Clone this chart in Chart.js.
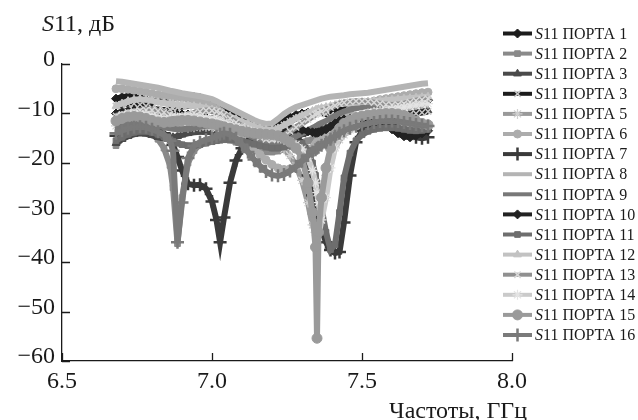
<!DOCTYPE html>
<html><head><meta charset="utf-8">
<script src="https://cdn.jsdelivr.net/npm/chart.js@4.4.1/dist/chart.umd.min.js"></script>
<style>html,body{margin:0;padding:0;background:#fff;}canvas{display:block;}</style>
</head><body>
<canvas id="c" width="638" height="420"></canvas>
<script>
// ---- data ----
const freqGHz = [6.68,6.70,6.72,6.74,6.76,6.78,6.80,6.82,6.84,6.86,
 6.87,6.885,6.90,6.92,6.94,6.96,6.98,7.00,7.015,7.027,
 7.04,7.06,7.08,7.10,7.12,7.14,7.16,7.18,7.20,7.22,
 7.24,7.26,7.28,7.30,7.32,7.335,7.345,7.35,7.355,7.365,
 7.38,7.395,7.41,7.425,7.44,7.46,7.48,7.50,7.52,7.54,
 7.56,7.58,7.60,7.62,7.64,7.66,7.68,7.70,7.72];

const port1 = [-7,-6.7,-6.5,-6.6,-6.8,-7.2,-7.5,-7.4,-7.1,-6.9,
 -6.8,-6.7,-6.6,-6.6,-6.7,-6.9,-7.2,-7.6,-8.0,-8.4,
 -8.8,-9.5,-10.2,-10.9,-11.5,-12.0,-12.3,-12.5,-12.4,-12.0,
 -11.4,-10.8,-10.3,-10.0,-9.8,-9.7,-9.6,-9.6,-9.6,-9.5,
 -9.4,-9.2,-9.0,-8.9,-8.8,-8.6,-8.4,-8.2,-8.0,-7.8,
 -7.6,-7.4,-7.2,-7.0,-6.9,-6.8,-6.9,-7.1,-7.3];
const port2 = [-16.5,-15.0,-13.8,-13.0,-12.8,-13.0,-13.8,-15.2,-17.0,-20.5,
 -25.0,-36.3,-27.0,-20.0,-17.5,-16.2,-15.5,-15.2,-15.0,-15.0,
 -15.1,-15.4,-15.8,-16.3,-16.8,-17.3,-17.6,-17.8,-17.8,-17.6,
 -17.2,-16.7,-16.2,-15.8,-15.5,-15.3,-15.2,-15.1,-15.0,-14.8,
 -14.5,-14.1,-13.7,-13.3,-13.0,-12.7,-12.4,-12.1,-11.9,-11.7,
 -11.6,-11.5,-11.5,-11.6,-11.8,-12.0,-12.2,-12.3,-12.3];
const port3 = [-16.0,-15.2,-14.6,-14.2,-14.0,-14.1,-14.4,-14.8,-15.0,-15.0,
 -14.8,-14.6,-14.3,-14.0,-13.8,-13.7,-13.7,-13.8,-14.0,-14.2,
 -14.4,-14.8,-15.2,-15.6,-16.0,-16.3,-16.5,-16.6,-16.6,-16.4,
 -16.0,-15.4,-14.8,-14.2,-13.8,-13.5,-13.4,-13.3,-13.2,-13.1,
 -13.0,-12.8,-12.6,-12.4,-12.2,-12.0,-11.8,-11.6,-11.4,-11.2,
 -11.0,-10.8,-10.6,-10.4,-10.2,-10.0,-9.8,-9.6,-9.4];
const port4 = [-8.5,-8.2,-8.0,-8.0,-8.2,-8.5,-8.9,-9.2,-9.3,-9.2,
 -9.0,-8.8,-8.6,-8.5,-8.5,-8.7,-9.0,-9.4,-9.8,-10.2,
 -10.6,-11.2,-11.8,-12.4,-12.9,-13.3,-13.6,-13.7,-13.5,-13.0,
 -12.3,-11.6,-11.0,-10.5,-10.1,-9.9,-9.8,-9.8,-9.8,-9.9,
 -10.1,-10.4,-10.8,-11.2,-11.6,-12.0,-12.3,-12.5,-12.5,-12.3,
 -12.0,-11.6,-11.2,-10.8,-10.5,-10.2,-10.0,-9.8,-9.6];
const port5 = [-12.5,-12.0,-11.6,-11.3,-11.2,-11.2,-11.4,-11.7,-12.0,-12.4,
 -12.6,-12.8,-12.9,-12.9,-12.8,-12.7,-12.7,-12.8,-13.0,-13.2,
 -13.4,-13.7,-14.0,-14.3,-14.6,-14.9,-15.2,-15.6,-16.0,-16.5,
 -17.2,-18.5,-20.5,-23.5,-28.0,-32.5,-34.0,-33.0,-31.0,-27.5,
 -22.5,-19.0,-16.8,-15.3,-14.3,-13.3,-12.6,-12.0,-11.5,-11.2,
 -11.2,-11.5,-12.0,-12.8,-13.8,-14.5,-14.8,-14.5,-13.0];
const port6 = [-5.0,-5.0,-5.1,-5.3,-5.5,-5.7,-6.0,-6.2,-6.4,-6.5,
 -6.6,-6.7,-6.8,-7.0,-7.2,-7.5,-7.9,-8.4,-9.0,-9.6,
 -10.3,-11.5,-12.8,-14.2,-15.6,-17.0,-18.3,-19.4,-20.3,-21.0,
 -21.3,-21.2,-20.6,-19.6,-18.2,-17.0,-16.2,-15.8,-15.4,-14.8,
 -13.8,-12.8,-11.8,-10.9,-10.1,-9.3,-8.7,-8.2,-7.8,-7.5,
 -7.2,-7.0,-6.8,-6.6,-6.4,-6.2,-6.0,-5.8,-5.7];
const port7 = [-14.5,-13.6,-12.9,-12.5,-12.4,-12.5,-12.8,-13.3,-14.0,-15.2,
 -16.3,-18.8,-21.5,-24.2,-24.5,-24.4,-25.2,-27.8,-31.5,-36.0,
 -31.0,-24.0,-19.5,-17.0,-15.5,-14.6,-14.2,-14.0,-13.9,-13.9,
 -13.8,-13.6,-14.0,-16.5,-22.5,-26.5,-28.5,-29.8,-31.0,-33.3,
 -36.0,-37.6,-38.2,-38.0,-32.0,-22.5,-15.8,-13.5,-12.4,-12.0,
 -11.8,-11.9,-12.3,-12.9,-13.6,-14.3,-14.8,-15.0,-14.8];
const port8 = [-3.5,-3.6,-3.8,-4.0,-4.2,-4.4,-4.6,-4.8,-5.1,-5.4,
 -5.5,-5.7,-5.9,-6.1,-6.3,-6.5,-6.8,-7.1,-7.5,-7.9,
 -8.3,-8.9,-9.5,-10.1,-10.7,-11.3,-11.8,-12.1,-12.0,-11.1,
 -10.1,-9.3,-8.7,-8.3,-7.9,-7.6,-7.4,-7.3,-7.2,-7.0,
 -6.8,-6.6,-6.5,-6.4,-6.3,-6.1,-6.0,-5.9,-5.8,-5.6,
 -5.4,-5.2,-5.0,-4.8,-4.6,-4.4,-4.2,-4.0,-3.9];
const port9 = [-13.0,-12.6,-12.2,-12.0,-11.9,-12.0,-12.2,-12.5,-12.8,-13.0,
 -13.1,-13.2,-13.2,-13.1,-12.9,-12.7,-12.5,-12.4,-12.4,-12.5,
 -12.6,-12.9,-13.3,-13.8,-14.3,-14.9,-15.4,-15.8,-16.0,-16.0,
 -15.7,-15.2,-14.6,-14.0,-13.4,-12.9,-12.6,-12.4,-12.2,-11.9,
 -11.5,-11.0,-10.5,-10.0,-9.6,-9.2,-8.9,-8.7,-8.5,-8.4,
 -8.4,-8.5,-8.6,-8.7,-8.7,-8.6,-8.4,-8.2,-8.0];
const port10 = [-10.0,-9.7,-9.5,-9.4,-9.5,-9.8,-10.2,-10.5,-10.6,-10.5,
 -10.4,-10.3,-10.2,-10.2,-10.3,-10.5,-10.8,-11.2,-11.6,-12.0,
 -12.4,-12.9,-13.3,-13.6,-13.8,-13.9,-13.9,-13.8,-13.6,-13.4,
 -13.2,-13.1,-13.1,-13.3,-13.6,-13.8,-13.9,-13.9,-13.8,-13.6,
 -13.2,-12.6,-12.0,-11.5,-11.2,-11.0,-11.0,-11.1,-11.3,-11.6,
 -12.0,-12.5,-13.2,-14.0,-14.6,-14.8,-14.5,-14.0,-13.5];
const port11 = [-15.5,-14.8,-14.2,-13.8,-13.6,-13.6,-13.8,-14.2,-14.7,-15.3,
 -15.6,-16.0,-16.3,-16.5,-16.5,-16.3,-16.0,-15.7,-15.5,-15.4,
 -15.3,-15.3,-15.4,-15.6,-15.9,-16.2,-16.5,-16.8,-17.0,-17.0,
 -16.8,-16.4,-16.0,-16.0,-17.5,-20.0,-22.5,-24.0,-25.5,-29.0,
 -34.0,-37.5,-36.5,-30.0,-23.0,-18.0,-15.5,-14.3,-13.6,-13.2,
 -13.0,-12.9,-12.9,-13.0,-13.2,-13.4,-13.5,-13.4,-13.2];
const port12 = [-8.5,-8.0,-7.5,-7.2,-7.1,-7.2,-7.4,-7.7,-7.9,-8.0,
 -8.1,-8.2,-8.3,-8.4,-8.5,-8.7,-8.9,-9.2,-9.5,-9.8,
 -10.1,-10.6,-11.1,-11.6,-12.1,-12.6,-13.0,-13.3,-13.3,-13.0,
 -12.4,-11.7,-11.0,-10.4,-9.9,-9.5,-9.3,-9.2,-9.1,-8.9,
 -8.7,-8.5,-8.3,-8.1,-8.0,-7.9,-7.8,-7.7,-7.6,-7.5,
 -7.4,-7.3,-7.2,-7.1,-7.0,-6.9,-6.8,-6.7,-6.6];
const port13 = [-10.5,-10.2,-9.8,-9.6,-9.4,-9.3,-9.3,-9.5,-9.8,-10.2,
 -10.4,-10.6,-10.5,-10.2,-9.9,-9.6,-9.4,-9.4,-9.6,-9.9,
 -10.3,-11.0,-11.8,-12.6,-13.4,-14.2,-14.8,-15.2,-15.3,-15.0,
 -14.4,-13.6,-12.8,-12.0,-11.2,-10.6,-10.2,-10.0,-9.9,-9.6,
 -9.2,-8.8,-8.4,-8.0,-7.8,-7.6,-7.5,-7.5,-7.6,-7.8,
 -8.0,-8.2,-8.3,-8.2,-8.0,-7.7,-7.4,-7.2,-7.0];
const port14 = [-11.0,-10.5,-10.2,-10.0,-10.0,-10.2,-10.5,-10.8,-11.0,-11.0,
 -10.9,-10.8,-10.7,-10.6,-10.6,-10.7,-10.9,-11.1,-11.3,-11.5,
 -11.8,-12.2,-12.6,-13.0,-13.4,-13.8,-14.1,-14.4,-14.7,-15.0,
 -15.3,-15.7,-16.3,-17.2,-19.0,-21.5,-24.0,-26.0,-28.0,-31.5,
 -27.0,-21.0,-17.0,-14.5,-13.0,-11.8,-11.0,-10.4,-10.0,-9.7,
 -9.5,-9.3,-9.1,-8.9,-8.7,-8.5,-8.3,-8.1,-8.0];
const port15 = [-11.5,-11.0,-10.7,-10.6,-10.7,-11.0,-11.4,-11.7,-11.8,-11.7,
 -11.6,-11.5,-11.4,-11.4,-11.5,-11.7,-11.9,-12.1,-12.3,-12.5,
 -12.7,-13.0,-13.3,-13.6,-13.8,-14.0,-14.1,-14.2,-14.3,-14.5,
 -15.0,-15.8,-17.0,-19.0,-24.0,-30.0,-37.0,-55.4,-34.0,-27.0,
 -21.0,-17.0,-14.5,-13.0,-12.0,-11.3,-10.8,-10.5,-10.3,-10.2,
 -10.1,-10.0,-10.0,-10.1,-10.4,-10.9,-11.5,-12.0,-12.3];
const port16 = [-14.0,-13.5,-13.0,-12.8,-12.7,-12.8,-13.2,-13.7,-14.3,-15.5,
 -17.5,-36.0,-28.0,-19.0,-16.5,-15.8,-15.3,-15.0,-14.6,-14.2,
 -14.0,-14.2,-15.0,-16.3,-17.8,-19.3,-20.6,-21.7,-22.4,-22.6,
 -22.3,-21.6,-20.7,-19.6,-18.5,-17.8,-17.3,-17.0,-16.8,-16.4,
 -15.8,-15.2,-14.6,-14.0,-13.5,-13.0,-12.6,-12.3,-12.0,-11.8,
 -11.6,-11.5,-11.5,-11.6,-11.8,-12.0,-12.2,-12.4,-12.5];

const portNames = ['ПОРТА 1','ПОРТА 2','ПОРТА 3','ПОРТА 3','ПОРТА 5','ПОРТА 6','ПОРТА 7','ПОРТА 8',
 'ПОРТА 9','ПОРТА 10','ПОРТА 11','ПОРТА 12','ПОРТА 13','ПОРТА 14','ПОРТА 15','ПОРТА 16'];
const xTickValues = [6.5, 7.0, 7.5, 8.0];
const yTickValues = [0, -10, -20, -30, -40, -50, -60];
const yAxisTitle = ['S', '11, дБ'];
const xAxisTitle = 'Частоты, ГГц';

const allPorts = [port1,port2,port3,port4,port5,port6,port7,port8,port9,port10,port11,port12,port13,port14,port15,port16];

// ---- styles ----
const styles = [
 {c:'#1c1c1c', p:'rectRot', r:4.5, pc:'#1c1c1c'},
 {c:'#8a8a8a', p:'rect', r:4, pc:'#8a8a8a'},
 {c:'#4a4a4a', p:'triangle', r:4.5, pc:'#4a4a4a'},
 {c:'#1c1c1c', p:'crossRot', r:4.5, pc:'#c8c8c8', bw:1.5},
 {c:'#999999', p:'star', r:5, pc:'#d0d0d0', bw:1.2},
 {c:'#acacac', p:'circle', r:4, pc:'#acacac'},
 {c:'#3a3a3a', p:'cross', r:6.5, pc:'#3a3a3a', bw:2.5},
 {c:'#b4b4b4', p:false, r:0, pc:'#b4b4b4'},
 {c:'#787878', p:false, r:0, pc:'#787878'},
 {c:'#222222', p:'rectRot', r:4.5, pc:'#222222'},
 {c:'#6e6e6e', p:'rect', r:4, pc:'#6e6e6e'},
 {c:'#c2c2c2', p:'triangle', r:4.5, pc:'#c2c2c2'},
 {c:'#909090', p:'crossRot', r:4.5, pc:'#d8d8d8', bw:1.5},
 {c:'#cacaca', p:'star', r:5, pc:'#e4e4e4', bw:1.2},
 {c:'#9a9a9a', p:'circle', r:5, pc:'#9a9a9a'},
 {c:'#7a7a7a', p:'cross', r:6.5, pc:'#7a7a7a', bw:2.5}
];

const FONT = "'Liberation Serif','Times New Roman',serif";

const datasets = allPorts.map((vals, i) => {
  const s = styles[i];
  return {
    label: 'S11 ' + portNames[i],
    data: freqGHz.map((f, k) => ({x: f, y: vals[k]})),
    borderColor: s.c,
    backgroundColor: s.pc,
    borderWidth: 6,
    pointStyle: s.p,
    pointRadius: s.r,
    pointBorderWidth: s.bw || 1,
    pointBackgroundColor: s.pc,
    pointBorderColor: s.pc,
    pointHoverRadius: s.r,
    tension: 0,
    order: 16 - i,
    clip: false
  };
});

function drawMixed(ctx, italicPart, normalPart, x, y, size, align) {
  ctx.font = 'italic ' + size + 'px ' + FONT;
  const w1 = ctx.measureText(italicPart).width;
  ctx.font = size + 'px ' + FONT;
  const w2 = ctx.measureText(normalPart).width;
  let x0 = x;
  if (align === 'right') x0 = x - w1 - w2;
  ctx.textAlign = 'left';
  ctx.font = 'italic ' + size + 'px ' + FONT;
  ctx.fillText(italicPart, x0, y);
  ctx.font = size + 'px ' + FONT;
  ctx.fillText(normalPart, x0 + w1, y);
}

const decor = {
  id: 'decor',
  afterDraw(chart) {
    const ctx = chart.ctx, xs = chart.scales.x, ys = chart.scales.y;
    ctx.save();
    // inner tick marks
    ctx.strokeStyle = '#1a1a1a';
    ctx.lineWidth = 1.3;
    ctx.beginPath();
    yTickValues.forEach(v => {
      const p = Math.round(ys.getPixelForValue(v)) + 0.5;
      ctx.moveTo(xs.left, p); ctx.lineTo(xs.left + 8, p);
    });
    xTickValues.forEach(v => {
      const p = Math.round(xs.getPixelForValue(v)) + 0.5;
      ctx.moveTo(p, ys.bottom); ctx.lineTo(p, ys.bottom - 8);
    });
    ctx.stroke();
    // axis titles
    ctx.fillStyle = '#1a1a1a';
    ctx.textBaseline = 'alphabetic';
    drawMixed(ctx, yAxisTitle[0], yAxisTitle[1], 42, 31, 24);
    ctx.font = '24px ' + FONT;
    ctx.textAlign = 'right';
    ctx.fillText(xAxisTitle, 527, 418);
    // legend
    const h = Chart.helpers;
    chart.data.datasets.forEach((ds, i) => {
      const s = styles[i];
      const y = 33.5 + i * 20.1;
      ctx.strokeStyle = s.c;
      ctx.lineWidth = 4;
      ctx.beginPath(); ctx.moveTo(503, y); ctx.lineTo(532, y); ctx.stroke();
      if (s.p) {
        ctx.fillStyle = s.pc;
        ctx.strokeStyle = s.pc;
        ctx.lineWidth = s.bw || 1;
        h.drawPoint(ctx, {pointStyle: s.p, radius: s.r, borderWidth: s.bw || 1, rotation: 0}, 517.5, y);
      }
      ctx.fillStyle = '#1a1a1a';
      ctx.textBaseline = 'middle';
      drawMixed(ctx, 'S', '11 ' + portNames[i], 535, y + 1, 16);
    });
    ctx.restore();
  }
};

new Chart(document.getElementById('c'), {
  type: 'line',
  data: { datasets },
  options: {
    responsive: false,
    animation: false,
    devicePixelRatio: 1,
    layout: { padding: { top: 64, right: 126, left: 0, bottom: 0 } },
    plugins: { legend: { display: false }, tooltip: { enabled: false } },
    scales: {
      x: {
        type: 'linear', min: 6.5, max: 8.0,
        afterBuildTicks: s => { s.ticks = xTickValues.map(v => ({value: v})); },
        afterFit: s => { s.height = 59; },
        grid: { display: false, drawTicks: false },
        border: { display: true, color: '#1a1a1a', width: 1.3 },
        ticks: { color: '#1a1a1a', font: { family: FONT, size: 24 }, padding: 6,
                 maxRotation: 0, autoSkip: false, callback: v => Number(v).toFixed(1) }
      },
      y: {
        type: 'linear', min: -60, max: 0,
        afterBuildTicks: s => { s.ticks = yTickValues.map(v => ({value: v})); },
        afterFit: s => { s.width = 62; },
        grid: { display: false, drawTicks: false },
        border: { display: true, color: '#1a1a1a', width: 1.3 },
        ticks: { color: '#1a1a1a', font: { family: FONT, size: 24 }, padding: 7, labelOffset: -4,
                 autoSkip: false, callback: v => (v < 0 ? '\u2212' + Math.abs(v) : String(v)) }
      }
    }
  },
  plugins: [decor]
});
</script>
</body></html>
